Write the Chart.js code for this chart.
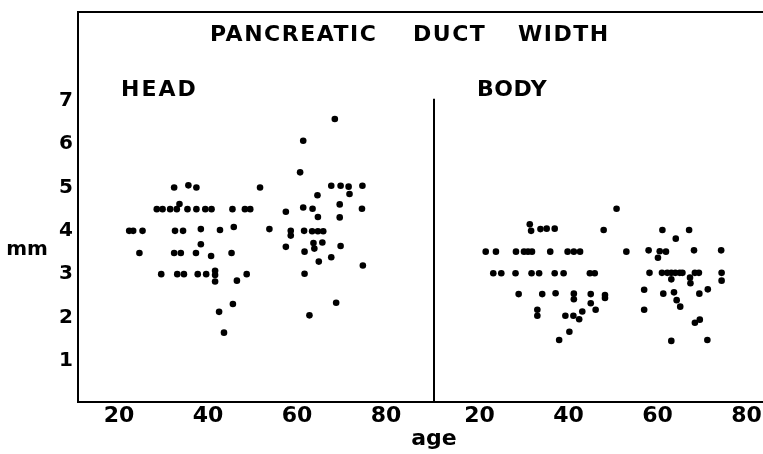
<!DOCTYPE html>
<html>
<head>
<meta charset="utf-8">
<script src="https://cdn.jsdelivr.net/npm/chart.js@4.4.1/dist/chart.umd.min.js"></script>
<style>
  html, body { margin: 0; padding: 0; background: #fff; }
  #wrap { width: 763px; height: 454px; }
</style>
</head>
<body>
<div id="wrap"><canvas id="myChart" width="763" height="454"></canvas></div>
<script>
// ages and duct width (mm)
var headAge = [32.4, 35.6, 37.4, 51.7,
  28.5, 29.8, 31.5, 33.0, 33.6, 35.4, 37.4, 39.4, 40.8, 45.5, 48.3, 49.5,
  22.3, 23.2, 25.3, 32.6, 34.4, 38.4, 42.7, 45.8, 38.4,
  24.6, 32.4, 33.9, 37.3, 40.7, 45.3,
  29.5, 33.1, 34.6, 37.7, 39.6, 41.6, 41.6, 41.6, 46.5, 48.7, 45.6, 42.5, 43.6,
  68.5, 61.4, 60.7, 67.7, 69.8, 71.6, 74.7, 64.6, 71.8, 57.5, 61.4, 63.5, 69.6, 74.6,
  64.7, 69.6, 53.8, 58.6, 58.6, 61.6, 63.4, 64.7, 65.9, 57.5, 63.7, 63.9, 65.7, 69.8,
  61.7, 67.7, 64.9, 74.8, 61.7, 68.8, 62.8];
var headMm = [5.0, 5.05, 5.0, 5.0,
  4.5, 4.5, 4.5, 4.5, 4.62, 4.5, 4.5, 4.5, 4.5, 4.5, 4.5, 4.5,
  4.0, 4.0, 4.0, 4.0, 4.0, 4.04, 4.02, 4.09, 3.69,
  3.49, 3.49, 3.49, 3.49, 3.42, 3.49,
  3.0, 3.0, 3.0, 3.0, 3.0, 3.08, 2.98, 2.83, 2.85, 3.0, 2.31, 2.13, 1.65,
  6.58, 6.08, 5.35, 5.04, 5.04, 5.02, 5.04, 4.82, 4.85, 4.44, 4.54, 4.51, 4.61, 4.51,
  4.32, 4.31, 4.04, 4.0, 3.89, 4.0, 3.99, 3.99, 3.99, 3.63, 3.72, 3.59, 3.73, 3.65,
  3.52, 3.39, 3.29, 3.2, 3.01, 2.34, 2.05];

var bodyAge = [31.3, 31.6, 33.7, 35.1, 36.9, 47.9,
  21.4, 23.7, 28.2, 30.0, 30.9, 31.8, 35.9, 39.8, 41.2, 42.6,
  23.1, 24.9, 28.1, 31.7, 33.4, 36.9, 38.9, 44.8, 45.9,
  28.8, 34.1, 37.1, 41.2, 41.2, 45.0, 45.0, 48.2, 48.2,
  46.1, 33.0, 33.0, 39.3, 41.1, 42.4, 43.1, 40.2, 37.9,
  50.8, 61.1, 67.1, 64.1, 53.0, 58.0, 60.5, 61.9, 60.1, 68.2, 74.3,
  58.2, 61.0, 62.2, 63.1, 64.0, 65.0, 65.6, 68.4, 69.3, 74.4, 74.4, 63.1, 67.3, 67.4,
  57.0, 61.3, 63.7, 69.4, 71.3, 64.3, 65.1, 57.0, 68.4, 69.5, 63.1, 71.2];
var bodyMm = [4.15, 4.0, 4.04, 4.05, 4.05, 4.02,
  3.52, 3.52, 3.52, 3.52, 3.52, 3.52, 3.52, 3.52, 3.52, 3.52,
  3.02, 3.02, 3.02, 3.02, 3.02, 3.02, 3.02, 3.02, 3.02,
  2.54, 2.54, 2.56, 2.55, 2.42, 2.54, 2.33, 2.52, 2.45,
  2.18, 2.18, 2.04, 2.04, 2.04, 1.96, 2.14, 1.67, 1.48,
  4.51, 4.02, 4.02, 3.82, 3.52, 3.55, 3.53, 3.52, 3.38, 3.55, 3.55,
  3.03, 3.03, 3.03, 3.03, 3.03, 3.03, 3.03, 3.03, 3.03, 3.03, 2.85, 2.88, 2.92, 2.79,
  2.64, 2.55, 2.58, 2.55, 2.65, 2.40, 2.25, 2.18, 1.88, 1.95, 1.46, 1.48];

var ageTicks = [20, 40, 60, 80];
var mmTicks = [1, 2, 3, 4, 5, 6, 7];

// body panel sits to the right of head panel on the same x scale
var BODY_OFFSET = 81;
var DIVIDER = 90.8;

var FONT = "'DejaVu Sans', sans-serif";

function toPoints(ages, mms, offset) {
    var pts = [];
    for (var i = 0; i < ages.length; i++) {
        pts.push({ x: ages[i] + offset, y: mms[i] });
    }
    return pts;
}

var xTickValues = [];
for (var i = 0; i < ageTicks.length; i++) xTickValues.push(ageTicks[i]);
for (var i = 0; i < ageTicks.length; i++) xTickValues.push(ageTicks[i] + BODY_OFFSET);

// frame, divider and the texts inside the plot
var decor = {
    id: 'decor',
    afterDraw: function (chart) {
        var ctx = chart.ctx;
        var a = chart.chartArea;
        var xs = chart.scales.x, ys = chart.scales.y;
        ctx.save();
        ctx.strokeStyle = '#000';
        ctx.lineWidth = 2;
        ctx.beginPath();
        ctx.moveTo(a.left - 1, a.top);
        ctx.lineTo(a.right, a.top);
        var dx = Math.round(xs.getPixelForValue(DIVIDER));
        ctx.moveTo(dx, ys.getPixelForValue(7.05));
        ctx.lineTo(dx, a.bottom);
        ctx.stroke();

        ctx.fillStyle = '#000';
        ctx.textBaseline = 'middle';
        ctx.textAlign = 'left';
        ctx.font = 'bold 22px ' + FONT;
        ctx.letterSpacing = '1.5px';
        ctx.fillText('PANCREATIC', 210, 35);
        ctx.fillText('DUCT', 413, 35);
        ctx.fillText('WIDTH', 518, 35);
        ctx.letterSpacing = '2px';
        ctx.fillText('HEAD', 121, 90);
        ctx.letterSpacing = '0.5px';
        ctx.fillText('BODY', 477, 90);
        ctx.letterSpacing = '0px';

        ctx.textAlign = 'center';
        ctx.font = 'bold 20px ' + FONT;
        ctx.fillText('mm', 27, ys.getPixelForValue(3.56));
        ctx.font = 'bold 22px ' + FONT;
        ctx.fillText('age', dx, 439);
        ctx.restore();
    }
};

var chart = new Chart(document.getElementById('myChart'), {
    type: 'scatter',
    data: {
        datasets: [{
            label: 'HEAD',
            data: toPoints(headAge, headMm, 0),
            backgroundColor: '#000',
            borderWidth: 0,
            pointRadius: 3.3
        }, {
            label: 'BODY',
            data: toPoints(bodyAge, bodyMm, BODY_OFFSET),
            backgroundColor: '#000',
            borderWidth: 0,
            pointRadius: 3.3
        }]
    },
    options: {
        responsive: false,
        animation: false,
        devicePixelRatio: 1,
        layout: {
            autoPadding: false,
            padding: { top: 12, right: 0, bottom: 0, left: 0 }
        },
        plugins: {
            legend: { display: false },
            tooltip: { enabled: false }
        },
        scales: {
            x: {
                type: 'linear',
                min: 10.8,
                max: 164.7,
                afterFit: function (s) {
                    s.height = 52;
                    s.paddingLeft = 0;
                    s.paddingRight = 0;
                },
                afterBuildTicks: function (s) {
                    s.ticks = xTickValues.map(function (v) { return { value: v }; });
                },
                grid: { display: false, drawTicks: false },
                border: { display: true, color: '#000', width: 2 },
                ticks: {
                    autoSkip: false,
                    maxRotation: 0,
                    padding: 1,
                    color: '#000',
                    font: { family: FONT, size: 22, weight: 'bold' },
                    callback: function (v) { return v > DIVIDER ? v - BODY_OFFSET : v; }
                }
            },
            y: {
                type: 'linear',
                min: 0.05,
                max: 9.05,
                afterFit: function (s) {
                    s.width = 78;
                    s.paddingTop = 0;
                    s.paddingBottom = 0;
                },
                afterBuildTicks: function (s) {
                    s.ticks = mmTicks.map(function (v) { return { value: v }; });
                },
                grid: { display: false, drawTicks: false },
                border: { display: true, color: '#000', width: 2 },
                ticks: {
                    padding: 5,
                    color: '#000',
                    font: { family: FONT, size: 20, weight: 'bold' }
                }
            }
        }
    },
    plugins: [decor]
});
</script>
</body>
</html>
